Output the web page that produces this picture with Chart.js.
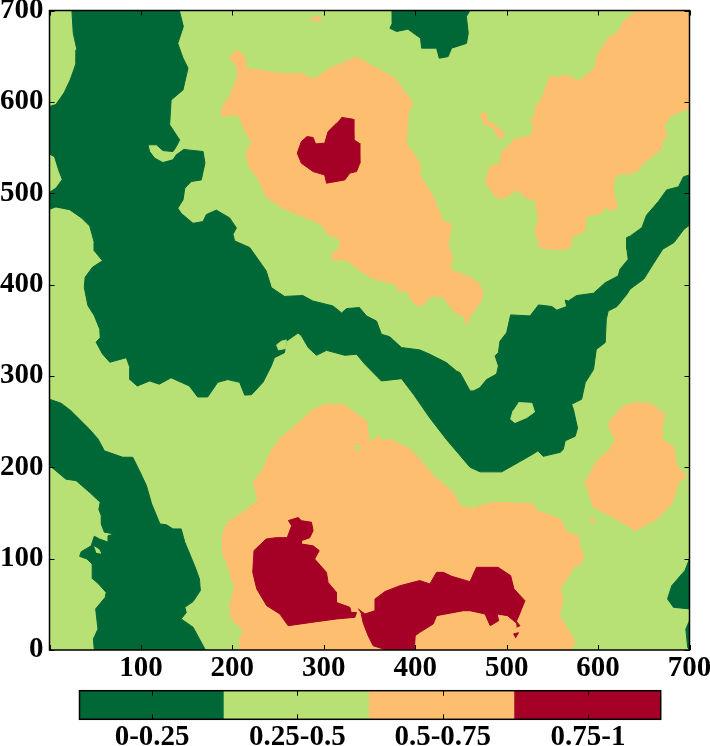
<!DOCTYPE html>
<html>
<head>
<meta charset="utf-8">
<script src="https://cdn.jsdelivr.net/npm/chart.js@4"></script>
<style>
  html, body { margin: 0; padding: 0; background: #fff; overflow: hidden; }
  #wrap { position: relative; width: 710px; height: 746px; }
  #mapBox { position: absolute; left: 0; top: 0; width: 710px; height: 682px; }
  #barBox { position: absolute; left: 0; top: 680px; width: 710px; height: 66px; }
</style>
</head>
<body>
<div id="wrap">
  <div id="mapBox"><canvas id="mapChart"></canvas></div>
  <div id="barBox"><canvas id="barChart"></canvas></div>
</div>
<script>
// class names and colours of the key
const classLabels = ['0-0.25', '0.25-0.5', '0.5-0.75', '0.75-1'];
const classColors = ['#006837', '#b7e075', '#fdbe6f', '#a50026'];
const classWidths = [0.99, 1, 1, 1.01];
const axisTicks = [0, 100, 200, 300, 400, 500, 600, 700];

// region outlines, as [x, y] in axis units
const darkMain = [[24.5,700],[26,675],[30,657],[29,642],[22.6,624],[16,610],[7,597],[0,595],[0,543],[5.5,540],[10,525.5],[14,515],[7,505.5],[0,501],[0,482.5],[7,485],[22,482],[35,473],[44,464],[49,446],[49,437],[58,426],[47,419],[39,408],[38,397],[42,377],[49,366],[55,351],[55.5,342],[51,337],[58,324],[66,315],[84,320],[88,309],[88,296],[96,289],[109.5,294.5],[120,291],[133,298],[153,289],[162,277],[173,277],[184,293],[195,296],[208,293],[213.5,279],[221,279.5],[233.5,293],[242.6,311],[246,320],[257,325.5],[259,338],[271.9,347],[275.5,344],[283,331],[292,322.6],[303,328],[323,322.6],[335.8,323.7],[345,312.8],[363,294.5],[385,297],[398,280],[416,254],[434,230.6],[443,220],[460,200],[471,195],[494.6,195],[507,202],[529,214.6],[534.3,218],[540,212],[558.6,216.4],[562,219.7],[564,229],[575,234],[577.5,243],[573,263.5],[571,269],[582,274.5],[586,292.7],[595,307],[598,329],[607.8,336.5],[609,362],[611,371],[620.7,376],[631.5,389.4],[635,395],[650,406],[657.9,418.6],[670.7,438.7],[683,446],[694,460.6],[700,465],[700,520],[693.4,518],[688,507],[675,503.6],[666,491],[653,476],[648,462.4],[635,453],[631.5,451.5],[631.5,438.7],[633,427.7],[624,416.8],[622,409.5],[607.8,402],[595,390.5],[576.6,388],[567.5,382],[564,383],[565.7,376],[554.9,372],[549.4,376],[534.8,377.7],[525.7,365.7],[504.4,366.8],[500,347.4],[492.7,338],[491,325.5],[487.4,322],[491,311],[489,302],[478,296],[470.7,287],[463.5,283.6],[460,283.6],[449,303.6],[445,305.5],[434,314.6],[416,323.7],[405,328.5],[385,331],[372,343],[363,345.6],[357.7,360],[346.7,365.7],[339,374.8],[325,373.7],[319.5,369],[310,376.6],[288,382],[277,388],[257,387],[242.6,396.7],[237,415],[219,440.5],[202.5,447.8],[200.7,455],[204.4,462],[197,473],[182.5,481.5],[171.5,476.6],[168,469],[157,467],[144,478],[140.3,483.6],[146,492.7],[148,505.5],[155,512.8],[166,514.6],[168,523.7],[170,532.8],[168,545.6],[151.5,547.4],[147,548],[138.7,542],[135,536.5],[124,533.6],[115,538.3],[109.5,545.6],[107.7,553],[117,553],[124,546.7],[135,545.6],[138.7,551],[142.3,558.4],[131.4,575],[133,602],[146,613],[151.5,637],[146,648],[140.3,664],[146.4,682.5],[142,700]];
const darkTop = [[374.8,700],[375,686],[372.3,680.6],[379.6,677],[392,679.6],[405.8,669.7],[407,658.8],[423.4,658.8],[426.3,647.8],[436,649.6],[439.8,658.8],[456,664],[458,675],[456,693.4],[459.9,700]];
const darkLeft = [[0,274.5],[12.8,270],[23.7,261.7],[43.8,241.6],[53,231],[60,218],[80,211],[91,211],[98.5,196],[106,180],[111.7,160],[120.8,138],[128,137],[135,132.5],[144,132.5],[148,118],[158.8,92],[164,77.7],[165,65],[157,53],[148,46.7],[149.6,41],[144,34],[157,25],[170,1],[170.4,0],[49,0],[48,12],[53,23],[50.5,45],[61,57.7],[62,63],[54,72],[47.4,78],[46.7,94],[41,99.6],[33,102.5],[34.7,107.6],[45.6,114],[49,124.5],[54.7,121.5],[64,118],[64,125],[71,127],[60,129],[56.6,138],[56.6,147],[54,154],[55.5,161.7],[43.8,172.6],[29,185.4],[18,187],[5.5,197.4],[0,202]];
const darkRight = [[700,99.6],[695,87],[680.6,70.4],[676,55.8],[682.5,46.7],[700,45]];
const darkSliver = [[700,32],[696,23],[698,3],[700,0]];

const orangeCentre = [[205,657],[213.5,649.6],[215.3,636.9],[240.9,633],[257,630.7],[273.7,631.4],[289.4,625],[306.6,636.9],[335.8,649],[357.7,636.9],[377.7,626],[386.9,613],[397,600],[392.3,585.8],[390.5,554.7],[405,532.8],[405,520],[419.7,496.4],[430.7,469],[439.8,467],[436,442],[440.9,431],[438,416.8],[459.9,407.7],[469,402],[474.5,391],[470.7,380],[459.9,365.7],[457,355.5],[453,365.7],[445.8,367.5],[438,376],[431,385.8],[418,388],[410.6,380],[405,376],[397.8,380],[390.5,393],[381,393],[379.6,400],[354,406.6],[343,413],[324.8,427],[310,427],[308,432],[317,440.5],[317.5,449.6],[304.7,455],[297,466],[284.7,471.5],[255,483.6],[237,496],[228,516],[219,527.4],[214.7,542],[220.9,556.6],[213.5,569.3],[206,585.8],[188,584],[189,595],[197,605.8],[206,627.7],[205,637],[197,649.6]];
const orangeRight = [[641,700],[700,700],[700,593],[690,589.4],[679,584],[672.3,573],[676,562.8],[671,558.4],[669.7,549],[658.8,540],[649.6,532.8],[642.3,523.7],[631.5,521],[622,521],[617.5,514.6],[616.8,501.8],[621,483.6],[613,481],[607.5,485.4],[604,478],[591,476],[585.7,470.8],[585.7,458.8],[571,451.5],[569,439.4],[553,438],[536.5,440.5],[534,449.6],[531,458.8],[534.7,471.5],[531,492.7],[522,494.5],[511,503.6],[496.4,493.8],[487.3,496.4],[476.4,512.8],[482,529],[492.7,532.8],[494.6,545.6],[505.5,554.7],[507,558.4],[522,562],[527.6,563.9],[529.4,576.6],[523.6,580],[529.4,580],[531,593],[538.3,604],[545.6,624],[547.4,628.5],[554.9,626],[564,629.6],[578.6,623],[589.5,630.7],[596.8,638.7],[598.5,649.6],[611.3,669.7],[620.3,675],[629.4,689.8]];
const orangeStripe = [[470.8,585.8],[476.4,589.4],[480,578.5],[487.3,574.8],[497.4,565.7],[492.7,558.4],[485.4,571],[474.5,576.6]];
const orangeSpeck = [[285,690.5],[294.3,694],[298,690],[290.7,688]];
const orangeBlob = [[611,249],[627.7,267],[640.5,270.8],[656.9,270],[673.3,258],[669.7,243.4],[669.7,230.7],[682.6,222],[686,202],[697,190],[688,183.6],[686,176],[680.6,160],[664,143],[640.5,130.7],[620.3,143.4],[595,156],[585.7,183.6],[598.5,207],[613,220],[618.8,231],[613,240]];
const orangeDot = [[590,141.6],[596,145],[594.5,138]];
const orangeBottom = [[197,141.6],[211.7,150.7],[228,163.5],[222.7,183.6],[233.6,198],[241,216],[251.8,231],[275,250.7],[288,263.5],[302.6,269],[321,269],[346.7,250.7],[350,227],[359,234],[364.5,228.8],[372,230.7],[394,220],[405,209],[419.7,190.9],[441.6,172.6],[449,158],[459.9,155],[469,157],[485.4,161.7],[529,160],[533,152.6],[558.6,143.4],[565.8,128.8],[578.6,125],[580.4,112.4],[584.7,103],[580.4,93],[575,93],[565.8,77.7],[559,68.6],[561.3,52],[557.7,37.6],[569.3,19],[574.8,10],[571,0],[208,0],[208,12],[212,21],[206.5,26.6],[199,34],[197,48.5],[202.5,70],[199,77.7],[195,92],[189,107],[189,125],[193.4,138]];

const redTop = [[319.3,583],[332,581],[332.9,558.4],[338.7,554.7],[339.4,532.8],[335.8,523.7],[328.5,522],[323,514.6],[303,511],[301,520],[288.3,523.7],[275.5,532.8],[271,543.8],[275.5,556.6],[281.7,562],[288.3,561],[291,554],[301,554.7],[304.7,567.5],[313.9,576.6]];
const redLeft = [[261,141.6],[271.9,145],[275.5,141.6],[286.5,139.8],[288.3,130.7],[284.7,123],[275.5,119.7],[275.5,116],[288.3,114],[295,108.8],[290,99.6],[302.9,85],[304.7,74],[313.9,63],[313.9,52],[328.5,46.7],[330,41],[335.8,41],[334,35.8],[313.9,34],[291.9,31],[261,26.6],[252,39.4],[237.6,48.5],[226.7,66.8],[222.3,85],[223.7,108.8],[237,121.5],[248,123],[260,123],[264.6,135.4]];
const redRight = [[337.6,45],[345,39.4],[356,43],[356,55.8],[367,64],[383.4,70.4],[405,76],[416,72.3],[423.4,85],[430.7,85],[439.8,80.7],[459.9,74.8],[467,90.5],[490.6,90.5],[504.4,81.4],[508,66.8],[520,54],[513.4,37.6],[510,30],[501,37.6],[489.5,39.4],[491.3,32],[482,26.6],[476.4,39.4],[459.9,43],[452.6,43],[423.4,37.6],[419.7,28.5],[405,19.3],[400,15.7],[399,0],[368.6,0],[354,4.7],[348.5,15.7],[343,30],[341,39.4]];
const redDotA = [[510,32],[514.6,26.6],[511,25]];
const redDotB = [[507.3,17.5],[513,19],[509.5,13]];

const lightIslandA = [[248,333.6],[253.6,338],[259,339.4],[258.4,330],[250,328.5]];
const lightIslandB = [[513,270.8],[527.6,270],[530.5,260.6],[522,254.4],[509,249],[504.4,252.6],[507,262]];
const lightIslandC = [[49,113],[54,110],[56,106],[51,107]];
const lightIslandD = [[334.5,224],[338.5,224],[338.5,219],[334.5,219]];

// later entries paint over earlier ones
const mapLayers = [
  [darkMain, 0], [darkTop, 0], [darkLeft, 0], [darkRight, 0], [darkSliver, 0],
  [orangeCentre, 2], [orangeRight, 2], [orangeStripe, 2], [orangeSpeck, 2],
  [orangeBlob, 2], [orangeDot, 2], [orangeBottom, 2],
  [redTop, 3], [redLeft, 3], [redRight, 3], [redDotA, 3], [redDotB, 3],
  [lightIslandA, 1], [lightIslandB, 1], [lightIslandC, 1], [lightIslandD, 1]
];

const labelFont = { family: '"Liberation Serif", serif', size: 29, weight: 'bold' };

// ticks point inwards on all four sides, the library only draws them outwards
const frameTicks = {
  id: 'frameTicks',
  afterDraw(chart) {
    const { ctx, chartArea: a, scales } = chart;
    const len = chart.options.plugins.frameTicks.length;
    ctx.save();
    ctx.strokeStyle = '#000';
    ctx.lineWidth = 1;
    ctx.beginPath();
    scales.x.ticks.forEach(t => {
      const x = Math.round(scales.x.getPixelForValue(t.value)) + 0.5;
      ctx.moveTo(x, a.top);
      ctx.lineTo(x, a.top + len);
      ctx.moveTo(x, a.bottom);
      ctx.lineTo(x, a.bottom - len);
    });
    if (chart.options.plugins.frameTicks.yTicks) {
      scales.y.ticks.forEach(t => {
        const y = Math.round(scales.y.getPixelForValue(t.value)) + 0.5;
        ctx.moveTo(a.left, y);
        ctx.lineTo(a.left + len, y);
        ctx.moveTo(a.right, y);
        ctx.lineTo(a.right - len, y);
      });
    }
    ctx.stroke();
    ctx.lineWidth = 1.5;
    ctx.strokeRect(a.left, a.top, a.right - a.left, a.bottom - a.top);
    ctx.restore();
  }
};

new Chart(document.getElementById('mapChart').getContext('2d'), {
  type: 'scatter',
  data: {
    datasets: mapLayers.map(([points, cls], i) => ({
      data: points.map(p => ({ x: p[0], y: p[1] })),
      showLine: true,
      fill: 'shape',
      order: mapLayers.length - i,
      pointRadius: 0,
      borderWidth: 1,
      borderColor: classColors[cls],
      backgroundColor: classColors[cls]
    }))
  },
  options: {
    responsive: true,
    maintainAspectRatio: false,
    animation: false,
    events: [],
    layout: { padding: { left: 0, top: 10.5, right: 20.5, bottom: 2 } },
    plugins: {
      legend: { display: false },
      tooltip: { enabled: false },
      frameTicks: { length: 5, yTicks: true }
    },
    scales: {
      x: {
        type: 'linear',
        min: 0,
        max: 700,
        grid: { display: false, drawTicks: false },
        border: { display: false },
        afterBuildTicks: s => { s.ticks = axisTicks.map(value => ({ value })); },
        afterFit: s => { s.height = 30; s.paddingLeft = 0; s.paddingRight = 0; },
        ticks: {
          color: '#000',
          font: labelFont,
          padding: 1,
          autoSkip: false,
          maxRotation: 0,
          callback: v => (v === 0 ? '' : String(v))
        }
      },
      y: {
        type: 'linear',
        min: 0,
        max: 700,
        grid: { display: false, drawTicks: false },
        border: { display: false },
        afterBuildTicks: s => { s.ticks = axisTicks.map(value => ({ value })); },
        afterFit: s => { s.width = 49.5; s.paddingTop = 0; s.paddingBottom = 0; },
        ticks: {
          color: '#000',
          font: labelFont,
          padding: 6,
          autoSkip: false,
          callback: v => String(v)
        }
      }
    }
  },
  plugins: [{
    id: 'landBase',
    beforeDatasetsDraw(chart) {
      const { ctx, chartArea: a } = chart;
      ctx.save();
      ctx.fillStyle = classColors[1];
      ctx.fillRect(a.left, a.top, a.right - a.left, a.bottom - a.top);
      ctx.restore();
    }
  }, frameTicks]
});

new Chart(document.getElementById('barChart').getContext('2d'), {
  type: 'bar',
  data: {
    labels: ['key'],
    datasets: classLabels.map((name, i) => ({
      label: name,
      data: [classWidths[i]],
      backgroundColor: classColors[i],
      borderWidth: 0,
      barPercentage: 1,
      categoryPercentage: 1
    }))
  },
  options: {
    indexAxis: 'y',
    responsive: true,
    maintainAspectRatio: false,
    animation: false,
    events: [],
    layout: { padding: { left: 79.5, top: 10.7, right: 49.3, bottom: 0 } },
    plugins: {
      legend: { display: false },
      tooltip: { enabled: false },
      frameTicks: { length: 5, yTicks: false }
    },
    scales: {
      x: {
        type: 'linear',
        stacked: true,
        min: 0,
        max: 4,
        grid: { display: false, drawTicks: false },
        border: { display: false },
        afterBuildTicks: s => { s.ticks = classLabels.map((_, i) => ({ value: i + 0.5 })); },
        afterFit: s => { s.height = 26.7; s.paddingLeft = 0; s.paddingRight = 0; },
        ticks: {
          color: '#000',
          font: labelFont,
          padding: 1,
          autoSkip: false,
          maxRotation: 0,
          callback: v => classLabels[Math.floor(v)]
        }
      },
      y: { stacked: true, display: false }
    }
  },
  plugins: [frameTicks]
});
</script>
</body>
</html>
